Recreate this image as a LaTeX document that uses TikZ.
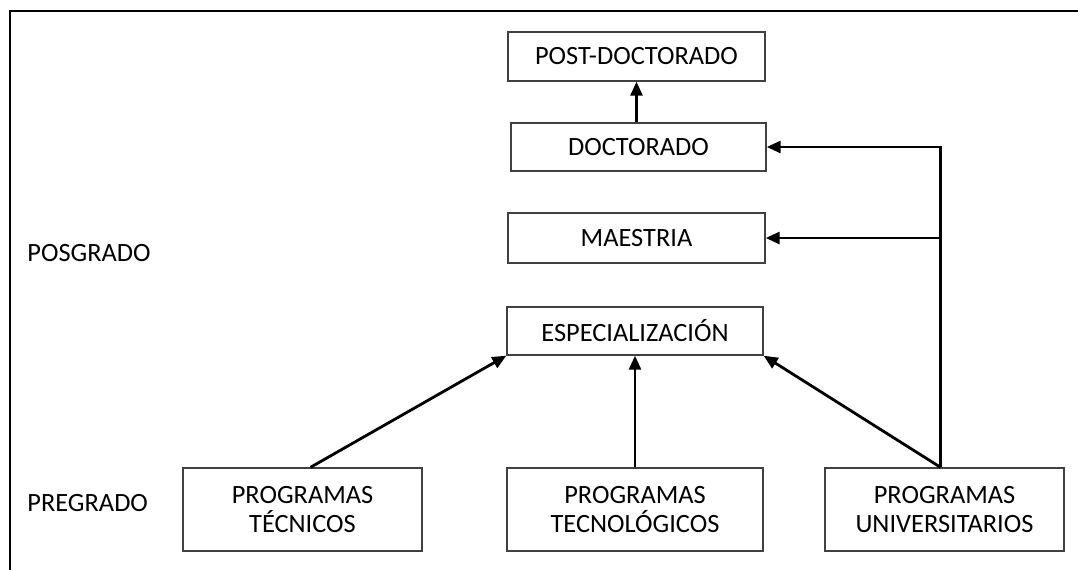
\documentclass[tikz,border=0pt]{standalone}
\usepackage{fontspec}
\setmainfont{Carlito}
\usepackage{tikz}
\usetikzlibrary{arrows.meta}
\usetikzlibrary{positioning}

\tikzset{
	nivel/.style={draw=black!75, line width=0.7pt, align=center, inner sep=0pt},
	flecha/.style={line width=1.4pt, -{Triangle[length=7pt, width=6pt]}},
	etiqueta/.style={anchor=west, inner sep=0pt},
}

\begin{document}
\begin{tikzpicture}[x=0.5pt, y=-0.5pt, font=\fontsize{13.2}{14.4}\selectfont]
		\useasboundingbox (0,0) rectangle (1078,569);
		\draw[line width=1.2pt] (10,575) -- (10,11) -- (1085,11);
		
		\node[nivel, minimum width=128.5pt, minimum height=24.5pt] (PD) at (636.5,56.5) {POST-DOCTORADO};
		\node[nivel, minimum width=127.5pt, minimum height=24pt] (D) at (638.5,147) {DOCTORADO};
		\node[nivel, minimum width=128.5pt, minimum height=25pt] (M) at (636.5,238) {MAESTRIA};
		\node[nivel, minimum width=128pt, minimum height=24pt] (E) at (635,331) {ESPECIALIZACIÓN};
		
		\node[nivel, minimum width=119.5pt, minimum height=41.5pt] (PT) at (302.5,509.5) {PROGRAMAS\\TÉCNICOS};
		\node[nivel, minimum width=128pt, minimum height=41.5pt] (PTEC) at (635,509.5) {PROGRAMAS\\TECNOLÓGICOS};
		\node[nivel, minimum width=119.5pt, minimum height=41.5pt] (PU) at (944.5,509.5) {PROGRAMAS\\UNIVERSITARIOS};
		
		\node[etiqueta] (POS) at (27,253) {POSGRADO};
		\node[etiqueta] (PRE) at (27,503) {PREGRADO};
		
		\coordinate (U) at ([xshift=-2pt]PU.north);
		
		\draw[flecha] (PD.south |- D.north) -- (PD.south);
		\draw[flecha] ([xshift=4pt]PT.north) -- (E.south west);
		\draw[flecha] (PTEC) -- (E);
		\draw[flecha] (U) -- (E.south east);
		\draw[flecha] (U) |- (D.east);
		\draw[flecha] (U |- M.east) -- (M.east);
		\end{tikzpicture}
\end{document}
